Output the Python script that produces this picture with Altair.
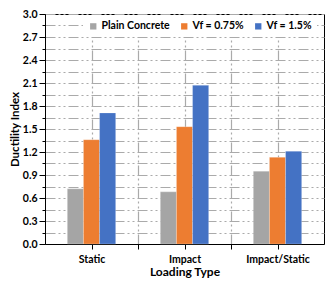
import altair as alt
import pandas as pd

categories = ["Static", "Impact", "Impact/Static"]
series = ["Plain Concrete", "Vf = 0.75%", "Vf = 1.5%"]
plain_concrete = [0.72, 0.68, 0.95]
vf_075 = [1.36, 1.53, 1.13]
vf_15 = [1.71, 2.07, 1.21]
colors = ["#a5a5a5", "#ed7d31", "#4472c4"]

y_ticks = [0.0, 0.15, 0.3, 0.45, 0.6, 0.75, 0.9, 1.05, 1.2, 1.35, 1.5, 1.65,
           1.8, 1.95, 2.1, 2.25, 2.4, 2.55, 2.7, 2.85, 3.0]
x_grid = [0.5, 1.0, 1.5, 2.0, 2.5]
x_label_pos = [0.5, 1.5, 2.5]

rows = []
for i, c in enumerate(categories):
    for s, vals in zip(series, [plain_concrete, vf_075, vf_15]):
        rows.append({"category": c, "series": s, "value": vals[i]})
df = pd.DataFrame(rows)

major_test = "abs(datum.value/0.3 - round(datum.value/0.3)) < 0.01"
dash = [10, 3, 2, 3, 2, 3]

x_label_expr = " : ".join(
    f"abs(datum.value - {p}) < 0.01 ? '{c}'" for p, c in zip(x_label_pos, categories)
) + " : ''"

grid_layer = alt.Chart(pd.DataFrame({"pos": x_grid})).mark_rule(opacity=0).encode(
    x=alt.X("pos:Q",
            scale=alt.Scale(domain=[0, 3], nice=False, zero=False),
            axis=alt.Axis(values=x_grid, labelExpr=x_label_expr, title="Loading Type",
                          grid=True, gridDash=dash, gridColor="#aaaaaa", gridWidth=1.2,
                          tickSize=5, labelPadding=5, titlePadding=2,
                          labelFontSize=10.5, titleFontSize=12))
)

bars = alt.Chart(df).mark_bar(stroke="#ffffff", strokeWidth=0.4, strokeOpacity=0.6).encode(
    x=alt.X("category:N", sort=categories,
            scale=alt.Scale(paddingInner=0.48, paddingOuter=0.24), axis=None),
    xOffset=alt.XOffset("series:N", sort=series,
                        scale=alt.Scale(paddingInner=0, paddingOuter=0)),
    y=alt.Y("value:Q",
            scale=alt.Scale(domain=[0, 3], nice=False),
            axis=alt.Axis(values=y_ticks, format=".1f",
                          labelExpr=f"{major_test} ? format(datum.value, '.1f') : ''",
                          title="Ductility Index", grid=True, gridDash=dash,
                          gridColor="#aaaaaa", gridWidth=1.2,
                          tickSize={"condition": {"test": major_test, "value": 6}, "value": 3},
                          labelPadding=2, titlePadding=2,
                          labelFontSize=10.5, titleFontSize=11.5)),
    color=alt.Color("series:N", sort=series,
                    scale=alt.Scale(domain=series, range=colors),
                    legend=alt.Legend(title=None, orient="none", legendX=38, legendY=2,
                                      direction="horizontal", fillColor="white",
                                      padding=5, symbolType="square", symbolSize=40,
                                      symbolStrokeWidth=0, labelFontSize=10.5,
                                      labelFontWeight="bold", labelFont="Lato",
                                      labelColor="black",
                                      columnPadding=9, labelOffset=3)),
)

chart = alt.layer(grid_layer, bars).resolve_scale(x="independent").properties(
    width=279, height=230,
    autosize=alt.AutoSizeParams(type="none"),
    padding={"left": 37, "top": 6, "right": 1, "bottom": 38},
).configure_view(stroke="black", strokeWidth=1).configure_axis(
    domainColor="black", tickColor="black", labelFont="Lato", titleFont="Lato",
    labelFontWeight="bold", titleFontWeight="bold", labelColor="black", titleColor="black",
)

chart.save("out.html", embed_options={"renderer": "svg", "actions": False})
